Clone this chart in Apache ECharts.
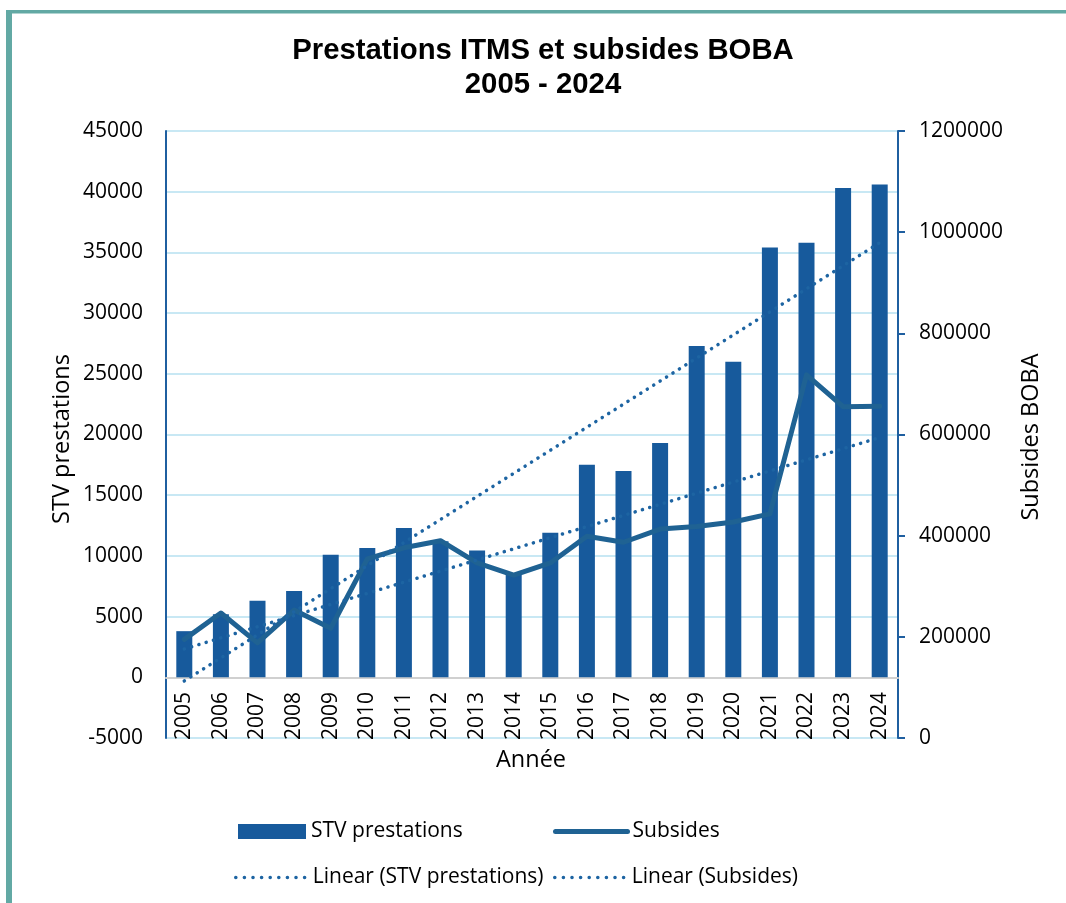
<!DOCTYPE html>
<html>
<head>
<meta charset="utf-8">
<script src="https://cdn.jsdelivr.net/npm/echarts@6/dist/echarts.min.js"></script>
<style>
html,body{margin:0;padding:0;background:#fff;}
#chart{width:1066px;height:903px;}
</style>
</head>
<body>
<div id="chart"></div>
<script>
const categories = ['2005','2006','2007','2008','2009','2010','2011','2012','2013','2014','2015','2016','2017','2018','2019','2020','2021','2022','2023','2024'];
const stvPrestations = [3800,5200,6300,7100,10100,10650,12300,11200,10450,8500,11900,17500,17000,19300,27300,26000,35400,35800,40300,40600];
const subsides = [195000,247000,188000,253000,217000,354000,376000,390000,346000,322000,346000,399000,387000,413000,418000,427000,443000,718000,655000,656000];
// trendline end points
const trendStv = [['2005', -300], ['2024', 35800]];
const trendSubsides = [['2005', 176000], ['2024', 594000]];
const leftTicks = {min: -5000, max: 45000, interval: 5000};
const rightTicks = {min: 0, max: 1200000, interval: 200000};

const FONT = 'Open Sans';
const barColor = '#175a9c';
const lineColor = '#1f6293';
const trendColor = '#1d64a2';
const gridColor = '#b6e0f0';
const axisBlue = '#1f5fa0';

const chart = echarts.init(document.getElementById('chart'));
const dotted = {width: 3.5, type: [0.1, 7.5], cap: 'round', color: trendColor};
const legendText = {fontFamily: FONT, fontSize: 21, color: '#000'};
const nameFont = '23.5px "Open Sans"';

chart.setOption({
  animation: false,
  backgroundColor: '#fff',
  textStyle: {fontFamily: FONT},
  title: {
    text: 'Prestations ITMS et subsides BOBA\n2005 - 2024',
    left: 538, textAlign: 'center', top: 29,
    textStyle: {fontFamily: 'Liberation Sans', fontWeight: 'bold', fontSize: 29.3, lineHeight: 34, color: '#000'}
  },
  graphic: [
    {type: 'rect', shape: {x: 6, y: 10, width: 6, height: 900}, style: {fill: '#62a9a4'}, silent: true},
    {type: 'rect', shape: {x: 6, y: 10, width: 1070, height: 3.5}, style: {fill: '#62a9a4'}, silent: true},
    {type: 'text', x: 62, y: 439, rotation: Math.PI / 2, silent: true,
      style: {text: 'STV prestations', font: nameFont, fill: '#000', align: 'center', verticalAlign: 'middle'}},
    {type: 'text', x: 1031, y: 437, rotation: Math.PI / 2, silent: true,
      style: {text: 'Subsides BOBA', font: nameFont, fill: '#000', align: 'center', verticalAlign: 'middle'}},
    {type: 'text', x: 531, y: 760, silent: true,
      style: {text: 'Année', font: nameFont, fill: '#000', align: 'center', verticalAlign: 'middle'}}
  ],
  legend: [
    {left: 238, top: 821, padding: 0, itemWidth: 68, itemHeight: 15, itemGap: 8,
      data: [{name: 'STV prestations', icon: 'rect'}], textStyle: legendText},
    {left: 553, top: 821, padding: 0, itemWidth: 72, itemHeight: 15, itemGap: 3,
      data: ['Subsides'], textStyle: legendText,
      itemStyle: {opacity: 0}, lineStyle: {width: 5, cap: 'round', color: lineColor}},
    {left: 234, top: 867, padding: 0, itemWidth: 72, itemHeight: 15, itemGap: 7,
      data: ['Linear (STV prestations)'], textStyle: legendText,
      itemStyle: {opacity: 0}, lineStyle: {width: 3.5, type: [0.1, 8.5], cap: 'round', color: trendColor}},
    {left: 553, top: 867, padding: 0, itemWidth: 72, itemHeight: 15, itemGap: 3,
      data: ['Linear (Subsides)'], textStyle: legendText,
      itemStyle: {opacity: 0}, lineStyle: {width: 3.5, type: [0.1, 8.5], cap: 'round', color: trendColor}}
  ],
  grid: {left: 166, right: 168, top: 131, bottom: 165, containLabel: false},
  xAxis: {
    type: 'category',
    data: categories,
    boundaryGap: true,
    axisLine: {onZero: true, onZeroAxisIndex: 0, lineStyle: {color: '#d0d0d0', width: 2}},
    axisTick: {show: false},
    axisLabel: {rotate: 90, fontFamily: FONT, fontSize: 21, color: '#000', margin: -46, interval: 0}
  },
  yAxis: [
    {
      type: 'value',
      min: leftTicks.min, max: leftTicks.max, interval: leftTicks.interval,
      axisLine: {show: true, lineStyle: {color: axisBlue, width: 2}},
      axisTick: {show: false},
      axisLabel: {fontFamily: FONT, fontSize: 21, color: '#000', margin: 23, formatter: v => String(v)},
      splitLine: {show: true, lineStyle: {color: gridColor, width: 1.5}}
    },
    {
      type: 'value',
      min: rightTicks.min, max: rightTicks.max, interval: rightTicks.interval,
      position: 'right',
      axisLine: {show: true, lineStyle: {color: axisBlue, width: 2}},
      axisTick: {show: true, inside: false, length: 7, lineStyle: {color: axisBlue, width: 2}},
      axisLabel: {fontFamily: FONT, fontSize: 21, color: '#000', margin: 21, formatter: v => String(v)},
      splitLine: {show: false}
    }
  ],
  series: [
    {
      name: 'STV prestations',
      type: 'bar',
      data: stvPrestations,
      barWidth: 16,
      itemStyle: {color: barColor},
      z: 2
    },
    {
      name: 'Subsides',
      type: 'line',
      yAxisIndex: 1,
      data: subsides,
      symbol: 'none',
      lineStyle: {color: lineColor, width: 5, join: 'round', cap: 'round'},
      itemStyle: {color: lineColor},
      z: 3
    },
    {
      name: 'Linear (STV prestations)',
      type: 'line',
      data: trendStv,
      symbol: 'none',
      lineStyle: dotted,
      itemStyle: {color: trendColor},
      z: 4
    },
    {
      name: 'Linear (Subsides)',
      type: 'line',
      yAxisIndex: 1,
      data: trendSubsides,
      symbol: 'none',
      lineStyle: dotted,
      itemStyle: {color: trendColor},
      z: 4
    }
  ]
});
</script>
</body>
</html>
